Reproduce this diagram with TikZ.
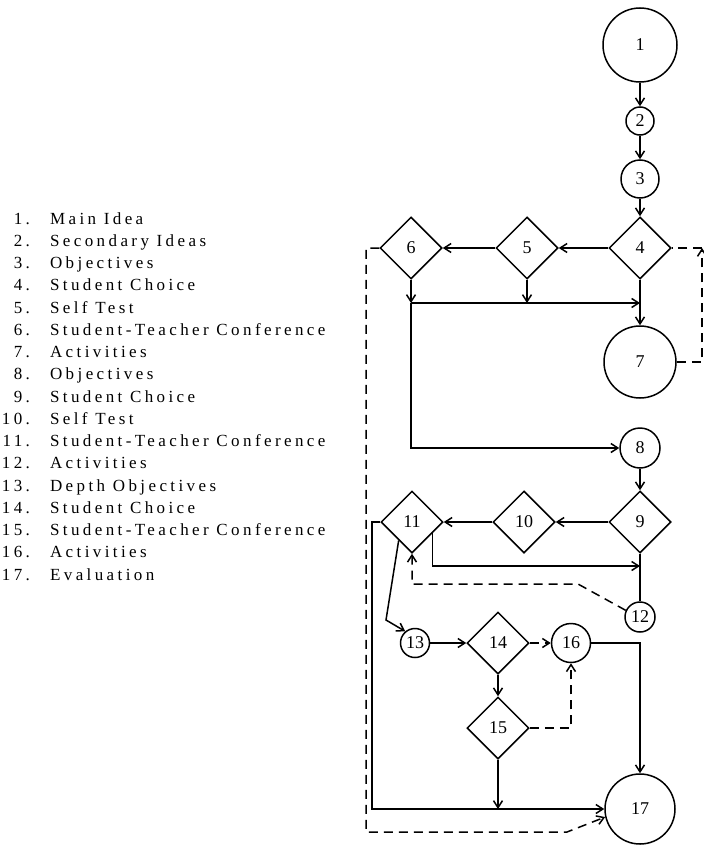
\documentclass[tikz,border=0pt]{standalone}
\usepackage{fontspec}
\setmainfont{Liberation Serif}
\newfontfamily\legendfont{Liberation Serif}[LetterSpace=20]
\usetikzlibrary{shapes.geometric,arrows.meta,calc}

\begin{document}
\begin{tikzpicture}[x=1bp,y=-1bp,
  line width=1.5bp,
  every node/.style={font=\fontsize{18bp}{20bp}\selectfont},
  stage/.style={circle,draw,inner sep=0pt},
  choice/.style={diamond,draw,minimum width=62bp,minimum height=62bp,inner sep=0pt},
  arr/.style={-{Straight Barb[length=7bp,width=9bp]}},
  opt/.style={dash pattern=on 9bp off 6bp},
  legnum/.style={anchor=base east,font=\legendfont\fontsize{17bp}{20bp}\selectfont},
  legtxt/.style={anchor=base west,font=\legendfont\fontsize{17bp}{20bp}\selectfont}
]
\useasboundingbox (0,0) rectangle (704,846);

% ---- stages and choices ----
\node[stage,minimum size=74bp] (n1) at (640,45) {1};
\node[stage,minimum size=28bp] (n2) at (640,121) {2};
\node[stage,minimum size=38bp] (n3) at (640,179) {3};
\node[choice] (d4) at (640,248) {4};
\node[choice] (d5) at (527,248) {5};
\node[choice] (d6) at (411,248) {6};
\node[stage,minimum size=72bp] (n7) at (640,362) {7};
\node[stage,minimum size=40bp] (n8) at (640,448) {8};
\node[choice] (d9) at (640,522) {9};
\node[choice] (d10) at (524,522) {10};
\node[choice] (d11) at (412,522) {11};
\node[stage,minimum size=30bp] (n12) at (640,617) {12};
\node[stage,minimum size=29bp] (n13) at (415,643) {13};
\node[choice] (d14) at (498,643) {14};
\node[stage,minimum size=39bp] (n16) at (571,643) {16};
\node[choice] (d15) at (498,728) {15};
\node[stage,minimum size=70bp] (n17) at (640,809) {17};

% ---- bend points ----
\coordinate (j6) at (411,303);
\coordinate (j5) at (527,303);
\coordinate (j4) at (640,303);
\coordinate (r4) at (702,248);
\coordinate (l6) at (366,248);
\coordinate (b6) at (366,832);
\coordinate (b17) at (567,832);
\coordinate (j9) at (640,566);
\coordinate (k12) at (578,584);
\coordinate (k13) at (386,620);
\coordinate (l11) at (372,522);
\coordinate (j15) at (498,809);

% ---- main sequence ----
\draw[arr] (n1.south) -- (n2.north);
\draw[arr] (n2.south) -- (n3.north);
\draw[arr] (n3.south) -- (d4.north);
\draw[arr] (d4.west) -- (d5.east);
\draw[arr] (d5.west) -- (d6.east);
\draw[arr] (d4.south) -- (n7.north);
\draw[arr] (d5.south) -- (j5);
\draw[arr] (d6.south) -- (j6);
\draw[arr] (j6) -- (j4);
\draw[arr] (j6) |- (n8.west);
\draw[opt,arr] (n7.east) -| (r4);
\draw[opt] (r4) -- (d4.east);
\draw[opt,arr] (d6.west) -- (l6) -- (b6) -- (b17) -- (n17.193);

% ---- second level ----
\draw[arr] (n8.south) -- (d9.north);
\draw[arr] (d9.west) -- (d10.east);
\draw[arr] (d10.west) -- (d11.east);
\draw (d9.south) -- (n12.north);
\draw[arr] ($(d11.south)!0.65!(d11.east)$) |- (j9);
\draw[opt,arr] (n12.155) -- (k12) -| (d11.south);
\draw[arr] ($(d11.south)!0.42!(d11.west)$) -- (k13) -- (n13.130);

% ---- depth level ----
\draw[arr] (n13.east) -- (d14.west);
\draw[opt,arr] (d14.east) -- (n16.west);
\draw[arr] (d14.south) -- (d15.north);
\draw[opt,arr] (d15.east) -| (n16.south);
\draw[arr] (n16.east) -| (n17.north);
\draw[arr] (d11.west) -- (l11) |- (n17.west);
\draw[arr] (d15.south) -- (j15);

% ---- key ----
\foreach \k/\t [count=\i from 0] in {
  1/Main Idea, 2/Secondary Ideas, 3/Objectives, 4/Student Choice,
  5/Self Test, 6/Student-Teacher Conference, 7/Activities, 8/Objectives,
  9/Student Choice, 10/Self Test, 11/Student-Teacher Conference,
  12/Activities, 13/Depth Objectives, 14/Student Choice,
  15/Student-Teacher Conference, 16/Activities, 17/Evaluation} {
  \node[legnum] (ln\k) at (34,{224+22.25*\i}) {\k.};
  \node[legtxt] (lt\k) at (46,{224+22.25*\i}) {\t};
}
\end{tikzpicture}
\end{document}
